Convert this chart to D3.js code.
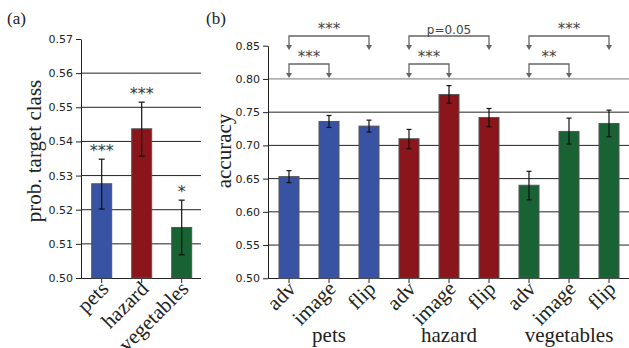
<!DOCTYPE html>
<html>
<head>
<meta charset="utf-8">
<script src="https://cdn.jsdelivr.net/npm/d3@7"></script>
<style>
  body { margin: 0; background: #fff; }
  svg { display: block; }
</style>
</head>
<body>
<svg id="chart" width="629" height="348"></svg>
<script>
// panel (a)
const catsA = ["pets", "hazard", "vegetables"];
const probA = [0.5276, 0.5437, 0.5148];
const probLoA = [0.5202, 0.5357, 0.5068];
const probHiA = [0.5348, 0.5515, 0.5228];
const starsA = ["***", "***", "*"];
const ticksA = [0.50, 0.51, 0.52, 0.53, 0.54, 0.55, 0.56, 0.57];

// panel (b)
const groupsB = ["pets", "hazard", "vegetables"];
const condsB = ["adv", "image", "flip"];
const accB = [0.653, 0.736, 0.729, 0.710, 0.7765, 0.742, 0.640, 0.721, 0.733];
const accLoB = [0.644, 0.727, 0.720, 0.695, 0.7635, 0.728, 0.618, 0.702, 0.713];
const accHiB = [0.662, 0.745, 0.738, 0.724, 0.790, 0.7555, 0.661, 0.741, 0.753];
const ticksB = [0.50, 0.55, 0.60, 0.65, 0.70, 0.75, 0.80, 0.85];
// significance brackets: group, first condition, second condition, label, level (0 = lower)
const bracketGroup = [0, 0, 1, 1, 2, 2];
const bracketFrom = ["adv", "adv", "adv", "adv", "adv", "adv"];
const bracketTo = ["image", "flip", "image", "flip", "image", "flip"];
const bracketLabel = ["***", "***", "***", "p=0.05", "**", "***"];
const bracketLevel = [0, 1, 0, 1, 0, 1];

const colors = ["#3853a3", "#8a161b", "#186233"];
const tickFont = "'DejaVu Sans', sans-serif";
const serif = "'Liberation Serif', 'Times New Roman', serif";

const svg = d3.select("#chart");

// ---------- panel (a) ----------
const xA = d3.scaleBand().domain(catsA).range([81.7, 201.7]).paddingInner(0.5).paddingOuter(0.25);
const yA = d3.scaleLinear().domain([0.50, 0.57]).range([278, 39]);

const gA = svg.append("g");

gA.append("g")
  .selectAll("line")
  .data(ticksA.filter(t => t > 0.5 && t < 0.57))
  .join("line")
  .attr("x1", 81).attr("x2", 201)
  .attr("y1", d => yA(d)).attr("y2", d => yA(d))
  .attr("stroke", "#222").attr("stroke-width", 1);

gA.append("g")
  .attr("transform", "translate(81,0)")
  .call(d3.axisLeft(yA).tickValues(ticksA).tickFormat(d3.format(".2f")).tickSize(5).tickSizeOuter(0))
  .call(g => g.selectAll("text").attr("font-family", tickFont).attr("font-size", 11).attr("fill", "#222"))
  .call(g => g.selectAll("line, path").attr("stroke", "#222"));

gA.append("g")
  .attr("transform", "translate(0,278)")
  .call(d3.axisBottom(xA).tickSize(5).tickSizeOuter(0).tickFormat(""))
  .call(g => g.select("path").attr("d", "M81,0.5H201"))
  .call(g => g.selectAll("line, path").attr("stroke", "#222"));

gA.selectAll(".barA")
  .data(catsA)
  .join("rect")
  .attr("class", "barA")
  .attr("x", d => xA(d))
  .attr("width", xA.bandwidth())
  .attr("y", (d, i) => yA(probA[i]))
  .attr("height", (d, i) => yA(0.5) - yA(probA[i]))
  .attr("fill", (d, i) => colors[i])
  .attr("stroke", "#555").attr("stroke-width", 1);

const errA = gA.selectAll(".errA").data(catsA).join("g").attr("class", "errA")
  .attr("transform", d => `translate(${xA(d) + xA.bandwidth() / 2},0)`);
errA.append("line").attr("y1", (d, i) => yA(probLoA[i])).attr("y2", (d, i) => yA(probHiA[i]));
errA.append("line").attr("x1", -3).attr("x2", 3).attr("y1", (d, i) => yA(probLoA[i])).attr("y2", (d, i) => yA(probLoA[i]));
errA.append("line").attr("x1", -3).attr("x2", 3).attr("y1", (d, i) => yA(probHiA[i])).attr("y2", (d, i) => yA(probHiA[i]));
errA.selectAll("line").attr("stroke", "#111").attr("stroke-width", 1.2);

gA.selectAll(".starA")
  .data(catsA)
  .join("text")
  .attr("x", d => xA(d) + xA.bandwidth() / 2)
  .attr("y", (d, i) => yA(probHiA[i]) - 3)
  .attr("text-anchor", "middle")
  .attr("font-family", tickFont).attr("font-size", 16).attr("fill", "#333")
  .text((d, i) => starsA[i]);

gA.selectAll(".labA")
  .data(catsA)
  .join("text")
  .attr("transform", d => `translate(${xA(d) + xA.bandwidth() / 2 + 8},${290}) rotate(-45)`)
  .attr("text-anchor", "end")
  .attr("font-family", serif).attr("font-size", 21).attr("fill", "#222")
  .text(d => d);

svg.append("text")
  .attr("transform", "translate(41,151) rotate(-90)")
  .attr("text-anchor", "middle")
  .attr("font-family", serif).attr("font-size", 21).attr("fill", "#222")
  .text("prob. target class");

svg.append("text").attr("x", 7).attr("y", 24)
  .attr("font-family", serif).attr("font-size", 17).attr("fill", "#222").text("(a)");

// ---------- panel (b) ----------
const keysB = groupsB.flatMap(g => condsB.map(c => g + "-" + c));
const xB = d3.scaleBand().domain(keysB).range([269, 629]).paddingInner(0.5).paddingOuter(0.25);
const yB = d3.scaleLinear().domain([0.50, 0.85]).range([278.3, 45.7]);
const cx = k => xB(k) + xB.bandwidth() / 2;

const gB = svg.append("g");

gB.append("g")
  .selectAll("line")
  .data(ticksB.filter(t => t > 0.5 && t < 0.85))
  .join("line")
  .attr("x1", 268).attr("x2", 629)
  .attr("y1", d => yB(d)).attr("y2", d => yB(d))
  .attr("stroke", d => d === 0.80 ? "#777" : "#222").attr("stroke-width", 1);

gB.append("g")
  .attr("transform", "translate(268,0)")
  .call(d3.axisLeft(yB).tickValues(ticksB).tickFormat(d3.format(".2f")).tickSize(5).tickSizeOuter(0))
  .call(g => g.selectAll("text").attr("font-family", tickFont).attr("font-size", 11).attr("fill", "#222"))
  .call(g => g.selectAll("line, path").attr("stroke", "#222"));

gB.append("g")
  .attr("transform", "translate(0,278)")
  .call(d3.axisBottom(xB).tickSize(5).tickSizeOuter(0).tickFormat(""))
  .call(g => g.select("path").attr("d", "M268,0.5H629"))
  .call(g => g.selectAll("line, path").attr("stroke", "#222"));

gB.selectAll(".barB")
  .data(keysB)
  .join("rect")
  .attr("class", "barB")
  .attr("x", d => xB(d))
  .attr("width", xB.bandwidth())
  .attr("y", (d, i) => yB(accB[i]))
  .attr("height", (d, i) => yB(0.5) - yB(accB[i]))
  .attr("fill", (d, i) => colors[Math.floor(i / 3)])
  .attr("stroke", "#555").attr("stroke-width", 1);

const errB = gB.selectAll(".errB").data(keysB).join("g").attr("class", "errB")
  .attr("transform", d => `translate(${cx(d)},0)`);
errB.append("line").attr("y1", (d, i) => yB(accLoB[i])).attr("y2", (d, i) => yB(accHiB[i]));
errB.append("line").attr("x1", -2.5).attr("x2", 2.5).attr("y1", (d, i) => yB(accLoB[i])).attr("y2", (d, i) => yB(accLoB[i]));
errB.append("line").attr("x1", -2.5).attr("x2", 2.5).attr("y1", (d, i) => yB(accHiB[i])).attr("y2", (d, i) => yB(accHiB[i]));
errB.selectAll("line").attr("stroke", "#111").attr("stroke-width", 1.2);

gB.selectAll(".labB")
  .data(keysB)
  .join("text")
  .attr("transform", d => `translate(${cx(d) + 8},${290}) rotate(-45)`)
  .attr("text-anchor", "end")
  .attr("font-family", serif).attr("font-size", 21).attr("fill", "#222")
  .text(d => d.split("-")[1]);

gB.selectAll(".grpB")
  .data(groupsB)
  .join("text")
  .attr("x", g => cx(g + "-image"))
  .attr("y", 342)
  .attr("text-anchor", "middle")
  .attr("font-family", serif).attr("font-size", 21).attr("fill", "#222")
  .text(d => d);

// significance brackets
const levelY = [64, 36];
const levelTip = [78, 50];
const brackets = gB.selectAll(".br").data(bracketLabel).join("g").attr("class", "br");
brackets.each(function (label, i) {
  const g = d3.select(this);
  const grp = groupsB[bracketGroup[i]];
  const x1 = cx(grp + "-" + bracketFrom[i]);
  const x2 = cx(grp + "-" + bracketTo[i]);
  const y = levelY[bracketLevel[i]];
  const tip = levelTip[bracketLevel[i]];
  g.append("path")
    .attr("d", `M${x1},${tip - 4}V${y}H${x2}V${tip - 4}`)
    .attr("fill", "none").attr("stroke", "#666").attr("stroke-width", 1.3);
  [x1, x2].forEach(x => {
    g.append("path")
      .attr("d", `M${x - 3},${tip - 5}L${x + 3},${tip - 5}L${x},${tip}Z`)
      .attr("fill", "#666");
  });
  g.append("text")
    .attr("x", (x1 + x2) / 2).attr("y", y - 2)
    .attr("text-anchor", "middle")
    .attr("font-family", tickFont).attr("font-size", label.startsWith("p") ? 12 : 15).attr("fill", "#444")
    .text(label);
});

svg.append("text")
  .attr("transform", "translate(231,151) rotate(-90)")
  .attr("text-anchor", "middle")
  .attr("font-family", serif).attr("font-size", 21).attr("fill", "#222")
  .text("accuracy");

svg.append("text").attr("x", 206).attr("y", 24)
  .attr("font-family", serif).attr("font-size", 17).attr("fill", "#222").text("(b)");
</script>
</body>
</html>
